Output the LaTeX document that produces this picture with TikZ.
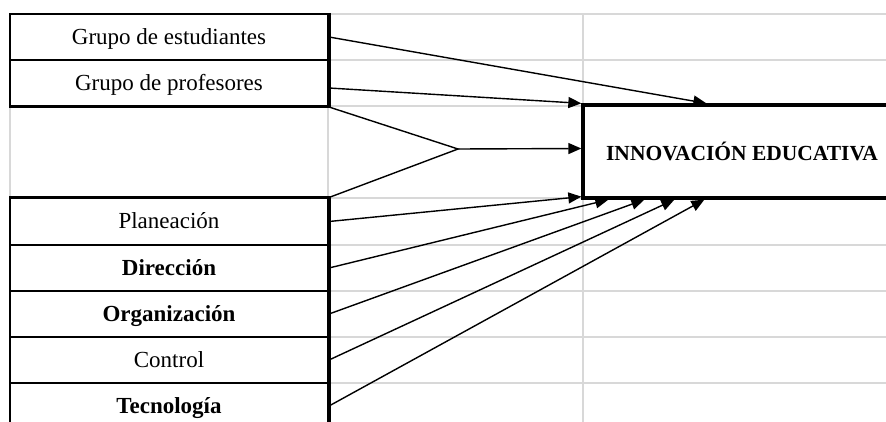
\documentclass[tikz,border=0pt]{standalone}
\usepackage{fontspec}
\setmainfont{Liberation Serif}
\usepackage[dvipsnames]{xcolor}
\usetikzlibrary{arrows.meta}
\definecolor{rejilla}{RGB}{216,216,216}

\begin{document}
\begin{tikzpicture}[x=1pt,y=-1pt,
    celda/.style={draw,line width=2pt,minimum width=318pt,minimum height=46pt,inner sep=0pt,
      text depth=1pt,font=\fontsize{23}{25}\selectfont},
    flecha/.style={line width=1.4pt,-{Triangle[length=13pt,width=11pt]}}]
    \clip (0,0) rectangle (886,422);
    % rejilla de la hoja
    \foreach \y in {14,60,106,198,245,291,337,383} {
      \draw[rejilla,line width=1.5pt] (328,\y) -- (886,\y);
    }
    \draw[rejilla,line width=1.5pt] (583,14) -- (583,422);
    \draw[rejilla,line width=1.5pt] (10,106) -- (10,198);
    \draw[rejilla,line width=1.5pt] (328,106) -- (328,198);
    % celdas de la izquierda
    \node[celda] (estud) at (169,37) {Grupo de estudiantes};
    \node[celda] (profes) at (169,83) {Grupo de profesores};
    \foreach \n/\y/\t in {plan/221.5/{Planeación},direc/268/{\textbf{Dirección}},organ/314/{\textbf{Organización}},contr/360/{Control},tecno/406/{\textbf{Tecnología}}} {
      \node[celda] (\n) at (169,\y) {\t};
    }
    \draw[line width=3pt] (estud.north east) -- (profes.south east);
    \draw[line width=3pt] (profes.south west) -- (profes.south east);
    \draw[line width=3pt] (plan.north west) -- (plan.north east) -- (tecno.south east);
    % recuadro de la derecha
    \node[draw,line width=3.3pt,minimum width=318pt,minimum height=93pt,inner sep=0pt,
      font=\fontsize{21.5}{24}\bfseries] (innov) at (742,151.5) {INNOVACIÓN EDUCATIVA};
    \coordinate (junta) at (458,149);
    \draw[line width=1.4pt] (profes.south east) -- (junta) -- (plan.north east);
    \draw[flecha] (estud.east) -- ([xshift=125pt]innov.north west);
    \draw[flecha] ([yshift=-5pt]profes.east) -- (innov.north west);
    \draw[flecha] (junta) -- ([yshift=3pt]innov.west);
    \draw[flecha] (plan.east) -- ([yshift=3pt]innov.south west);
    \foreach \n/\dx in {direc/27,organ/63,contr/93,tecno/123} {
      \draw[flecha] (\n.east) -- ([xshift=\dx pt]innov.south west);
    }
\end{tikzpicture}
\end{document}
